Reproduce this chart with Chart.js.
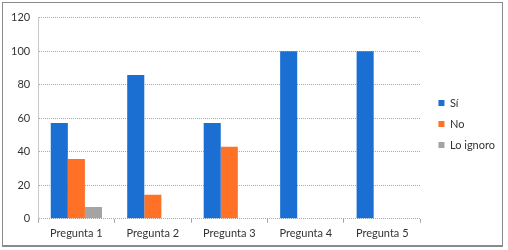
<!DOCTYPE html>
<html>
<head>
<meta charset="utf-8">
<script src="https://cdn.jsdelivr.net/npm/chart.js@4"></script>
<style>
  html, body { margin: 0; padding: 0; background: #fff; }
  #marco {
    position: absolute; left: 2px; top: 2px;
    width: 499px; height: 242px;
    border: 1px solid #8a8a8a;
    border-bottom-width: 2px;
  }
</style>
</head>
<body>
<div id="marco"><canvas id="grafico" width="499" height="242"></canvas></div>
<script>
// datos
const preguntas = ["Pregunta 1", "Pregunta 2", "Pregunta 3", "Pregunta 4", "Pregunta 5"];
const si = [57.1, 85.7, 57.1, 100, 100];
const no = [35.7, 14.3, 42.9, 0, 0];
const loIgnoro = [7.1, 0, 0, 0, 0];
const ticksY = [0, 20, 40, 60, 80, 100, 120];

Chart.defaults.font.family = "Lato, 'Liberation Sans', sans-serif";
Chart.defaults.font.size = 11;
Chart.defaults.color = "#404040";

const grilla = "#a8a8a8";

new Chart(document.getElementById("grafico").getContext("2d"), {
    type: "bar",
    data: {
        labels: preguntas,
        datasets: [
            { label: "Sí", data: si, backgroundColor: "#1b6fd3" },
            { label: "No", data: no, backgroundColor: "#ff7126" },
            { label: "Lo ignoro", data: loIgnoro, backgroundColor: "#a4a4a4" }
        ]
    },
    options: {
        responsive: false,
        animation: false,
        layout: { padding: { left: 0, top: 5, right: 5, bottom: 1 } },
        datasets: {
            bar: { categoryPercentage: 0.67, barPercentage: 1 }
        },
        plugins: {
            tooltip: { enabled: false },
            legend: {
                position: "right",
                labels: {
                    boxWidth: 6,
                    boxHeight: 6,
                    padding: 10,
                    color: "#333"
                }
            }
        },
        scales: {
            x: {
                grid: {
                    offset: true,
                    drawOnChartArea: false,
                    drawTicks: true,
                    tickLength: 4,
                    color: grilla
                },
                border: { display: false },
                ticks: { padding: 4, color: "#333" }
            },
            y: {
                min: 0,
                max: 120,
                afterBuildTicks: axis => { axis.ticks = ticksY.map(v => ({ value: v })); },
                grid: {
                    drawTicks: false,
                    color: grilla
                },
                border: { display: true, dash: [1, 1], color: "#c8c8c8" },
                ticks: { padding: 8, color: "#333" }
            }
        }
    },
    plugins: [{
        // corre la leyenda un poco a la derecha y arriba sin tocar el area del grafico
        id: "correrLeyenda",
        afterLayout(chart) {
            chart.legend.left += 8;
            chart.legend.right += 8;
            chart.legend.top -= 2;
            chart.legend.bottom -= 2;
        }
    }]
});
</script>
</body>
</html>
